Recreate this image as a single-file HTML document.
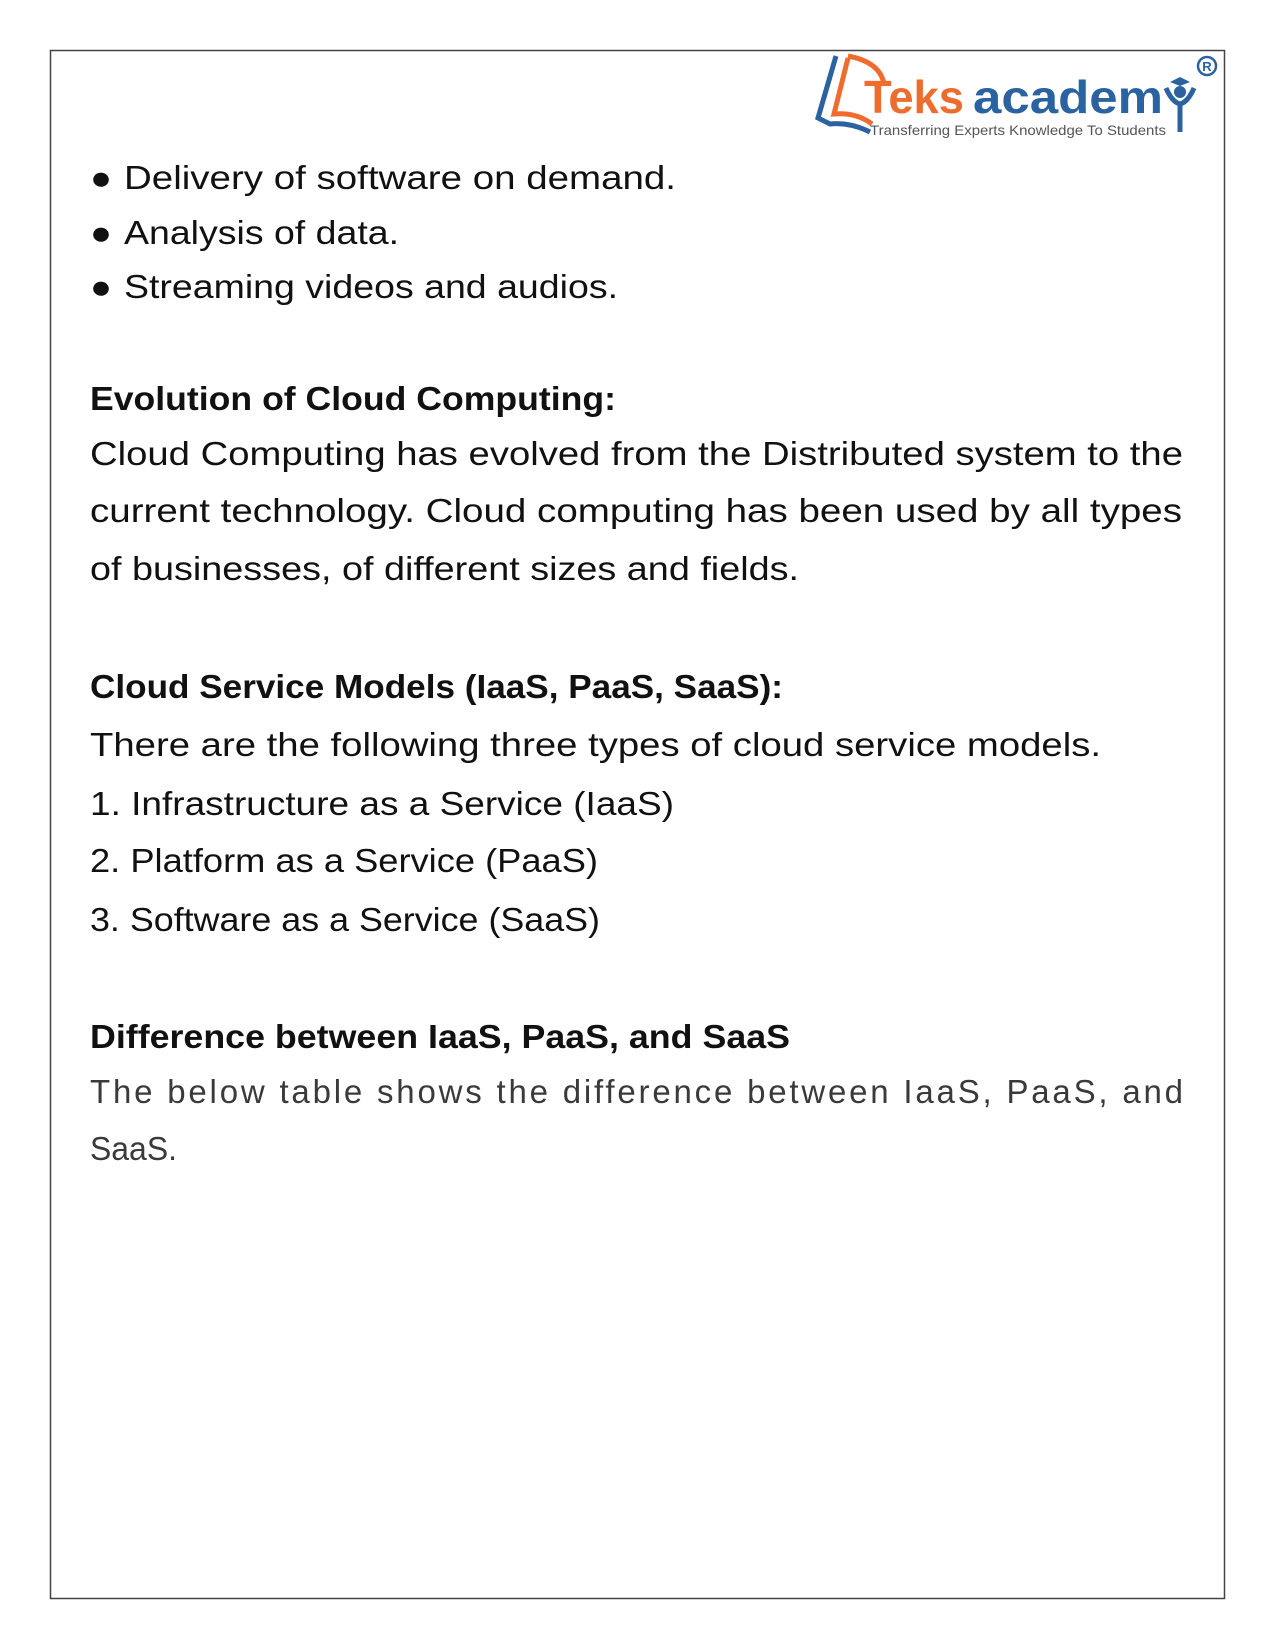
<!DOCTYPE html>
<html><head><meta charset="utf-8"><style>
html,body{margin:0;padding:0;background:#fff;}
</style></head><body>
<svg width="1275" height="1650" viewBox="0 0 1275 1650" xmlns="http://www.w3.org/2000/svg" style="display:block">
<rect x="0" y="0" width="1275" height="1650" fill="#fff"/>
<rect x="50.5" y="50.5" width="1174" height="1548" fill="none" stroke="#444" stroke-width="1.5"/>
<!-- logo -->
<path d="M836 56 L818 118 L830 124 Q850 122 870 132" fill="none" stroke="#2b62a0" stroke-width="5"/>
<path d="M848 56 Q880 62 884 84" fill="none" stroke="#ef6c2f" stroke-width="5"/>
<path d="M848 58 L834 114 Q856 112 872 124" fill="none" stroke="#ef6c2f" stroke-width="5"/>
<text x="864" y="113" font-family="Liberation Sans, sans-serif" font-weight="bold" font-size="46" fill="#ef6c2f" textLength="100" lengthAdjust="spacingAndGlyphs">Teks</text>
<text x="973" y="113" font-family="Liberation Sans, sans-serif" font-weight="bold" font-size="46" fill="#2b62a0" textLength="190" lengthAdjust="spacingAndGlyphs">academ</text>
<path d="M1166 88 Q1172 102 1180 104 Q1188 102 1194 88 M1180 104 L1180 132" fill="none" stroke="#2b62a0" stroke-width="5"/>
<circle cx="1180" cy="92" r="6" fill="#2b62a0"/>
<path d="M1170 82 L1180 77 L1190 82 L1180 86 Z" fill="#2b62a0"/>
<circle cx="1207" cy="66" r="9" fill="none" stroke="#2b62a0" stroke-width="2.5"/>
<text x="1207" y="71" text-anchor="middle" font-family="Liberation Sans, sans-serif" font-weight="bold" font-size="13" fill="#2b62a0">R</text>
<text x="870" y="135" font-family="Liberation Sans, sans-serif" font-size="14" fill="#555" textLength="296" lengthAdjust="spacingAndGlyphs">Transferring Experts Knowledge To Students</text>
<g font-family="Liberation Sans, sans-serif" font-size="33" fill="#111">
<text x="90" y="189" textLength="22" lengthAdjust="spacingAndGlyphs">●</text>
<text x="124" y="189" textLength="552" lengthAdjust="spacingAndGlyphs">Delivery of software on demand.</text>
<text x="90" y="244" textLength="22" lengthAdjust="spacingAndGlyphs">●</text>
<text x="124" y="244" textLength="275" lengthAdjust="spacingAndGlyphs">Analysis of data.</text>
<text x="90" y="298" textLength="22" lengthAdjust="spacingAndGlyphs">●</text>
<text x="124" y="298" textLength="494" lengthAdjust="spacingAndGlyphs">Streaming videos and audios.</text>
<text x="90" y="410" font-weight="bold" textLength="526" lengthAdjust="spacingAndGlyphs">Evolution of Cloud Computing:</text>
<text x="90" y="465" textLength="1093" lengthAdjust="spacingAndGlyphs">Cloud Computing has evolved from the Distributed system to the</text>
<text x="90" y="522" textLength="1092" lengthAdjust="spacingAndGlyphs">current technology. Cloud computing has been used by all types</text>
<text x="90" y="580" textLength="709" lengthAdjust="spacingAndGlyphs">of businesses, of different sizes and fields.</text>
<text x="90" y="698" font-weight="bold" textLength="693" lengthAdjust="spacingAndGlyphs">Cloud Service Models (IaaS, PaaS, SaaS):</text>
<text x="90" y="756" textLength="1011" lengthAdjust="spacingAndGlyphs">There are the following three types of cloud service models.</text>
<text x="90" y="815" textLength="584" lengthAdjust="spacingAndGlyphs">1. Infrastructure as a Service (IaaS)</text>
<text x="90" y="872" textLength="508" lengthAdjust="spacingAndGlyphs">2. Platform as a Service (PaaS)</text>
<text x="90" y="931" textLength="510" lengthAdjust="spacingAndGlyphs">3. Software as a Service (SaaS)</text>
<text x="90" y="1048" font-weight="bold" textLength="700" lengthAdjust="spacingAndGlyphs">Difference between IaaS, PaaS, and SaaS</text>
<text x="90" y="1103" fill="#3a3a3a" textLength="1093" lengthAdjust="spacing">The below table shows the difference between IaaS, PaaS, and</text>
<text x="90" y="1160" fill="#3a3a3a" textLength="87" lengthAdjust="spacingAndGlyphs">SaaS.</text>
</g>
</svg>
</body></html>
